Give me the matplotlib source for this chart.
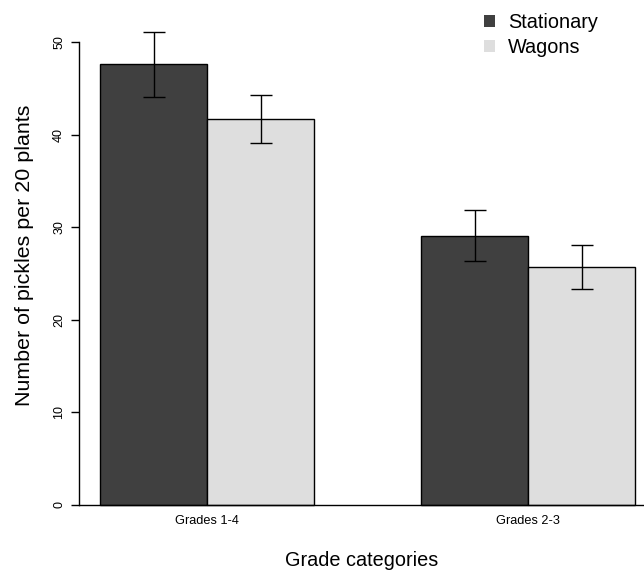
import matplotlib
matplotlib.use("Agg")
import matplotlib.pyplot as plt
from matplotlib.patches import Patch

plt.rcParams['font.family'] = ['Liberation Sans', 'DejaVu Sans']

# dados
categorias = ["Grades 1-4", "Grades 2-3"]
series = ["Stationary", "Wagons"]
medias = {
    "Stationary": [47.6, 29.1],
    "Wagons": [41.7, 25.7],
}
erro_inf = {
    "Stationary": [44.1, 26.3],
    "Wagons": [39.1, 23.3],
}
erro_sup = {
    "Stationary": [51.1, 31.9],
    "Wagons": [44.3, 28.1],
}
cores = {"Stationary": "#404040", "Wagons": "#dedede"}

fig = plt.figure(figsize=(6.44, 5.72), dpi=100)
ax = fig.add_axes([79 / 644, 62.4 / 572, 565 / 644, 509.3 / 572])

# posições estilo barplot do R (beside=TRUE, space=c(0,1))
for j, s in enumerate(series):
    xs = [1.5 + j + 3 * i for i in range(len(categorias))]
    ax.bar(xs, medias[s], width=1.0, color=cores[s], edgecolor="black",
           linewidth=1.0, zorder=2)
    lo = [m - e for m, e in zip(medias[s], erro_inf[s])]
    hi = [e - m for m, e in zip(medias[s], erro_sup[s])]
    ax.errorbar(xs, medias[s], yerr=[lo, hi], fmt="none", ecolor="black",
                elinewidth=1.0, capsize=8, capthick=1.0, zorder=3)

ax.axhline(0, color="black", linewidth=1.0, zorder=4)
ax.set_xlim(0.8, 6.08)
ax.set_ylim(-0.5, 54.5)

for lado in ["top", "right", "bottom"]:
    ax.spines[lado].set_visible(False)
ax.spines["left"].set_bounds(0, 50)
ax.spines["left"].set_linewidth(1.0)

ax.set_yticks(range(0, 51, 10))
ax.set_yticklabels([str(v) for v in range(0, 51, 10)], rotation=90,
                   va="center", fontsize=9)
ax.tick_params(axis="y", length=6, width=1.0, pad=4)

ax.set_xticks([2 + 3 * i for i in range(len(categorias))])
ax.set_xticklabels(categorias, fontsize=9.2)
ax.tick_params(axis="x", length=0, pad=4)

ax.set_ylabel("Number of pickles per 20 plants", fontsize=15.4, labelpad=14)
ax.set_xlabel("Grade categories", fontsize=14.3, labelpad=17)

handles = [Patch(facecolor=cores[s], edgecolor="none", label=s) for s in series]
fig.legend(handles=handles, loc="upper left", bbox_to_anchor=(476 / 644, 1 - 5 / 572),
           frameon=False, fontsize=14.3, handlelength=0.55, handleheight=0.55,
           handletextpad=0.65, labelspacing=0.3, borderaxespad=0)

fig.savefig("out.png", dpi=100)
